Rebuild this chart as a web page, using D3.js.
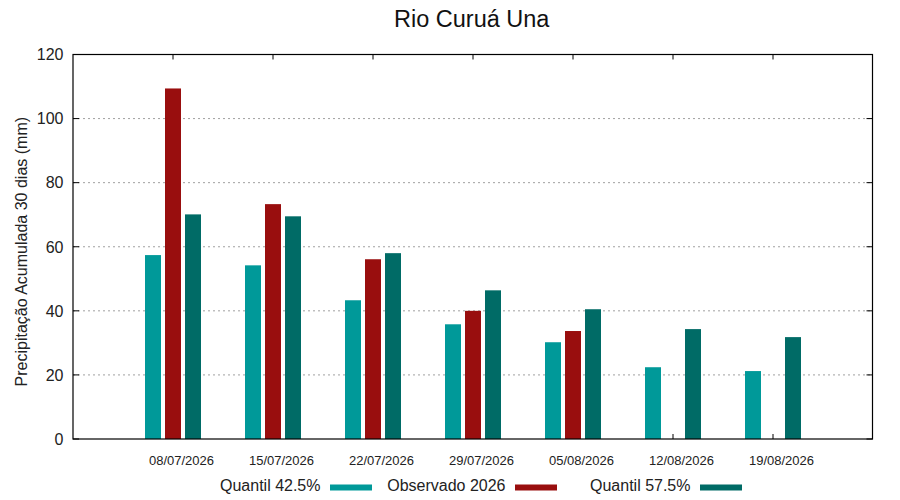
<!DOCTYPE html>
<html><head><meta charset="utf-8">
<script src="https://cdn.jsdelivr.net/npm/d3@7"></script>
<style>body{margin:0;background:#fff}svg{display:block;font-family:"Liberation Sans",Arial,sans-serif}</style>
</head><body><svg id="c" width="900" height="500"></svg>
<script>
const categories = ["08/07/2026","15/07/2026","22/07/2026","29/07/2026","05/08/2026","12/08/2026","19/08/2026"];
const q425 = [57.4, 54.2, 43.3, 35.8, 30.2, 22.4, 21.2];
const obs2026 = [109.4, 73.3, 56.1, 40.0, 33.7, null, null];
const q575 = [70.1, 69.5, 58.0, 46.4, 40.5, 34.3, 31.8];
const yTicks = [0, 20, 40, 60, 80, 100, 120];
const seriesNames = ["Quantil 42.5%", "Observado 2026", "Quantil 57.5%"];
const seriesColors = ["#009999", "#990e0e", "#006b66"];
const title = "Rio Curuá Una";
const yLabel = "Precipitação Acumulada 30 dias (mm)";

const svg = d3.select("#c");
const L = 73, R = 872.5, T = 54.5, B = 439;
const x = d3.scaleLinear().domain([-1, categories.length]).range([L, R + 0.5]);
const y = d3.scaleLinear().domain([0, 120]).range([B, T]);

// gridlines
svg.append("g").selectAll("line").data(yTicks.filter(v => v > 0 && v < 120)).join("line")
  .attr("x1", L).attr("x2", R).attr("y1", d => y(d)).attr("y2", d => y(d))
  .attr("stroke", "#a0a0a0").attr("stroke-width", 1).attr("stroke-dasharray", "2,3");

// x ticks (inward, top and bottom)
const xt = svg.append("g");
categories.forEach((c, i) => {
  xt.append("line").attr("x1", x(i)).attr("x2", x(i)).attr("y1", T).attr("y2", T + 5).attr("stroke", "#000");
  xt.append("line").attr("x1", x(i)).attr("x2", x(i)).attr("y1", B).attr("y2", B - 5).attr("stroke", "#000");
});
// y ticks (inward, both sides)
yTicks.forEach(v => {
  xt.append("line").attr("x1", L).attr("x2", L + 6).attr("y1", y(v)).attr("y2", y(v)).attr("stroke", "#000");
  xt.append("line").attr("x1", R).attr("x2", R - 6).attr("y1", y(v)).attr("y2", y(v)).attr("stroke", "#000");
});

// bars
const series = [q425, obs2026, q575];
const offsets = [-0.2, 0, 0.2];
const bw = 0.16;
series.forEach((s, k) => {
  svg.append("g").selectAll("rect").data(s.map((v, i) => ({v, i})).filter(d => d.v != null)).join("rect")
    .attr("x", d => x(d.i + offsets[k] - bw / 2))
    .attr("width", d => x(d.i + offsets[k] + bw / 2) - x(d.i + offsets[k] - bw / 2))
    .attr("y", d => y(d.v))
    .attr("height", d => y(0) - y(d.v))
    .attr("fill", seriesColors[k]);
});

// frame
svg.append("rect").attr("x", L).attr("y", T).attr("width", R - L).attr("height", B - T)
  .attr("fill", "none").attr("stroke", "#000").attr("stroke-width", 1.2);

// y tick labels
svg.append("g").selectAll("text").data(yTicks).join("text")
  .attr("x", 63.5).attr("y", d => y(d)).attr("dy", "0.36em")
  .attr("text-anchor", "end").attr("font-size", 16).attr("fill", "#222").text(d => d);

// x labels
svg.append("g").selectAll("text").data(categories).join("text")
  .attr("x", (d, i) => x(i) + 8.5).attr("y", 465)
  .attr("text-anchor", "middle").attr("font-size", 13).attr("fill", "#222").text(d => d);

// title
svg.append("text").attr("x", 471.7).attr("y", 27).attr("text-anchor", "middle")
  .attr("font-size", 23.5).attr("fill", "#111").text(title);

// y label
svg.append("text").attr("transform", "translate(27," + 251.7 + ") rotate(-90)")
  .attr("text-anchor", "middle").attr("font-size", 16).attr("fill", "#222").text(yLabel);

// legend
const swX = [330, 515, 700];
seriesNames.forEach((n, k) => {
  svg.append("text").attr("x", swX[k] - 9.5).attr("y", 491).attr("text-anchor", "end")
    .attr("font-size", 16).attr("fill", "#222").text(n);
  svg.append("rect").attr("x", swX[k]).attr("y", 484.5).attr("width", 42).attr("height", 6)
    .attr("fill", seriesColors[k]);
});
</script></body></html>
